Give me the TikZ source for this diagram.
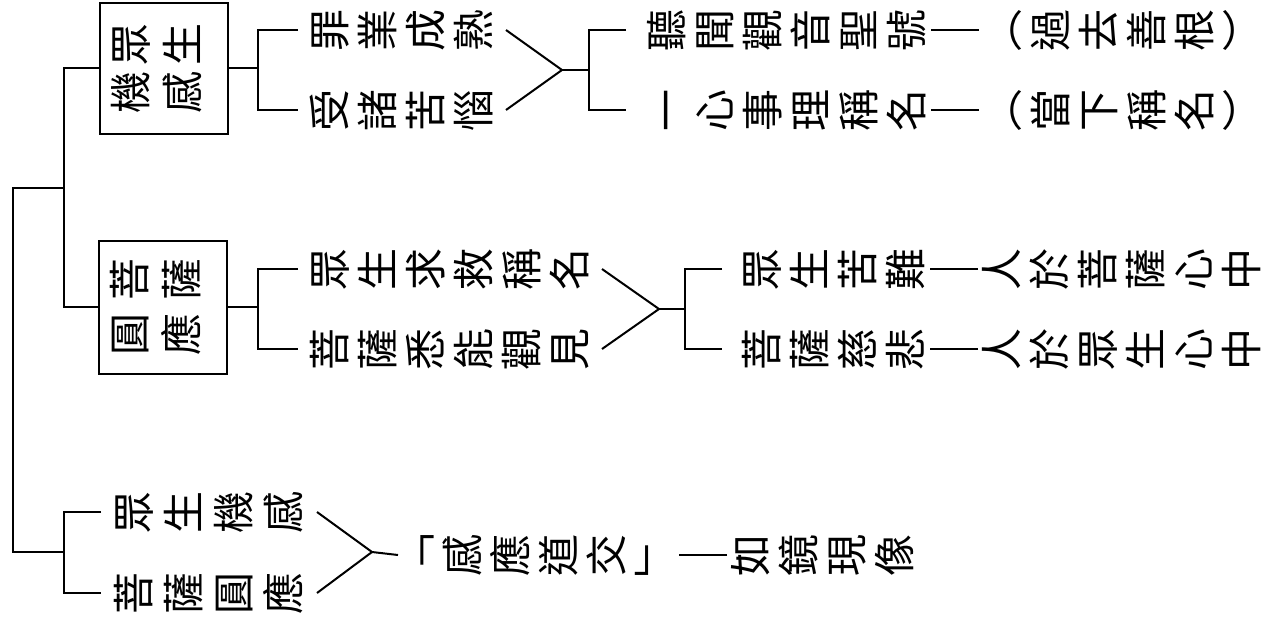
\documentclass[tikz,border=0pt]{standalone}
\usepackage{fontspec}
\usepackage{graphicx}
\newfontfamily\cjkfont{Noto Sans CJK TC}
\makeatletter
\newcommand\vrow[2]{\def\vr@pitch{#1}\@tfor\vr@c:=#2\do{\makebox[\vr@pitch][c]{\rotatebox[origin=c]{90}{\raisebox{0pt}[0.88em][0.12em]{\vr@c}}}}}
\makeatother
\newcommand\mydash{\rule[\dimexpr0.38em-24pt\relax]{1.4pt}{48pt}}
\tikzset{
  txt/.style={inner sep=0pt, font=\cjkfont\fontsize{42}{48}\selectfont},
  boxnode/.style={draw, line width=2pt, inner sep=0pt, minimum width=128pt, align=center,
    font=\cjkfont\fontsize{42}{48}\selectfont},
  conn/.style={line width=2pt}
}
\begin{document}
\begin{tikzpicture}[x=1pt,y=-1pt]
\useasboundingbox (0,0) rectangle (1265,624);
% boxes
\node[boxnode, minimum height=131pt] (box1) at (164,68) {\vrow{52pt}{眾生}\hspace*{14pt}\\[0pt]\vrow{52pt}{機感}\hspace*{14pt}};
\node[boxnode, minimum height=133pt] (box2) at (163,307) {\vrow{52pt}{菩薩}\hspace*{14pt}\\[7pt]\vrow{52pt}{圓應}\hspace*{14pt}};
% group 1
\node[txt, outer xsep=8pt] (a1) at (402,30) {\vrow{48pt}{罪業成熟}};
\node[txt, outer xsep=8pt] (a2) at (402,110) {\vrow{48pt}{受諸苦惱}};
\node[txt, outer xsep=17pt] (d1) at (955,30) {\vrow{48pt}{聽聞觀音聖號{\mydash}︵過去善根︶}};
\node[txt, outer xsep=17pt] (d2) at (955,110) {\vrow{48pt}{一心事理稱名{\mydash}︵當下稱名︶}};
% group 2
\node[txt, outer xsep=8pt] (e1) at (450,269) {\vrow{48pt}{眾生求救稱名}};
\node[txt, outer xsep=8pt] (e2) at (450,349) {\vrow{48pt}{菩薩悉能觀見}};
\node[txt, outer xsep=16pt] (f1) at (1002,269) {\vrow{48pt}{眾生苦難{\mydash}人於菩薩心中}};
\node[txt, outer xsep=16pt] (f2) at (1002,349) {\vrow{48pt}{菩薩慈悲{\mydash}人於眾生心中}};
% group 3
\node[txt, outer xsep=8pt] (c1) at (209,512) {\vrow{50pt}{眾生機感}};
\node[txt, outer xsep=8pt] (c2) at (209,593) {\vrow{50pt}{菩薩圓應}};
\node[txt, outer xsep=-7pt] (g) at (655,555) {\vrow{48pt}{﹁感應道交﹂{\mydash}如鏡現像}};
% junction coordinates
\coordinate (r1) at (13,188);
\coordinate (r2) at (13,552);
\coordinate (b1) at (64,188);
\coordinate (b2) at (64,552);
\coordinate (j1) at (258,68);
\coordinate (m1) at (562,70);
\coordinate (k1) at (589,70);
\coordinate (j2) at (258,307);
\coordinate (m2) at (659,309);
\coordinate (k2) at (685,309);
\coordinate (m3) at (372,552);
% connectors
\draw[conn] (b1) -- (r1) -- (r2) -- (b2);
\draw[conn] (box1.west) -| (b1) |- (box2.west);
\draw[conn] (c1.west) -| (b2) |- (c2.west);
\draw[conn] (box1.east) -- (j1);
\draw[conn] (a1.west) -| (j1) |- (a2.west);
\draw[conn] (a1.east) -- (m1) -- (a2.east);
\draw[conn] (m1) -- (k1);
\draw[conn] (d1.west) -| (k1) |- (d2.west);
\draw[conn] (box2.east) -- (j2);
\draw[conn] (e1.west) -| (j2) |- (e2.west);
\draw[conn] (e1.east) -- (m2) -- (e2.east);
\draw[conn] (m2) -- (k2);
\draw[conn] (f1.west) -| (k2) |- (f2.west);
\draw[conn] (c1.east) -- (m3) -- (c2.east);
\draw[conn] (m3) -- (g.west);
\end{tikzpicture}
\end{document}
